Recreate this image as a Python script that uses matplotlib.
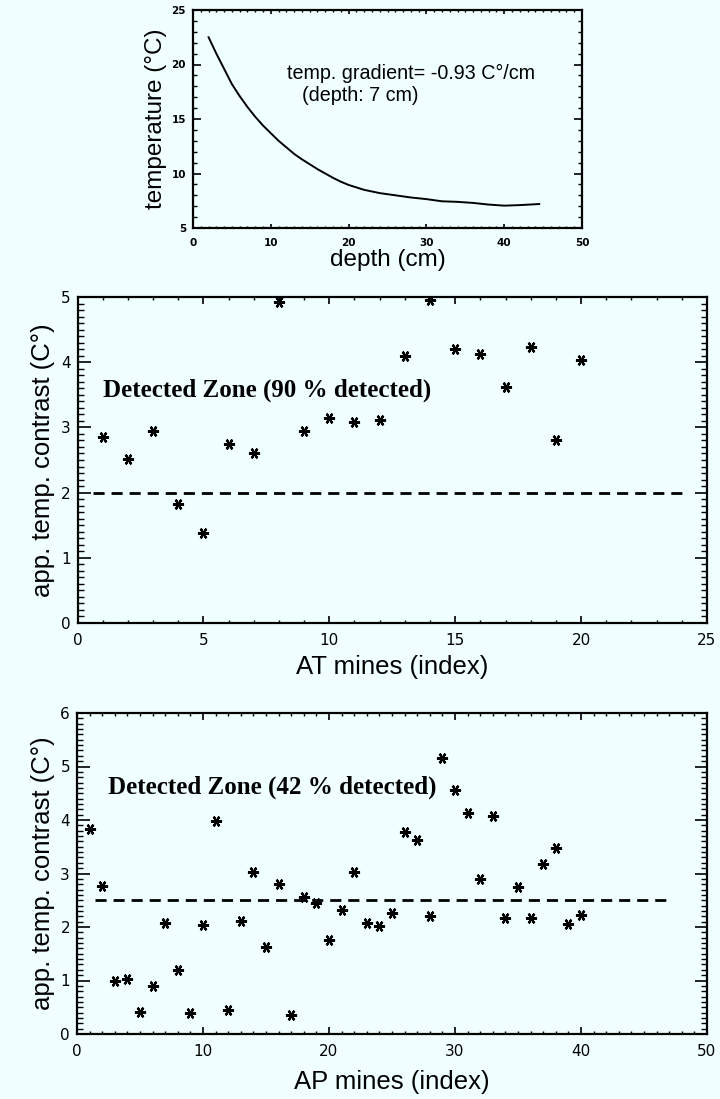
import numpy as np
import matplotlib.pyplot as plt
from matplotlib.ticker import MultipleLocator

# top panel: temperature profile
depth = [2, 3, 4, 5, 6, 7, 8, 9, 10, 11, 12, 13, 14, 15, 16, 17, 18, 19, 20,
         22, 24, 26, 28, 30, 32, 34, 36, 38, 40, 42, 44.5]
temperature = [22.5, 21.0, 19.6, 18.2, 17.1, 16.1, 15.2, 14.4, 13.7, 13.0, 12.4,
               11.8, 11.3, 10.85, 10.4, 10.0, 9.6, 9.25, 8.95, 8.5, 8.2, 8.0,
               7.8, 7.65, 7.45, 7.4, 7.3, 7.15, 7.05, 7.1, 7.2]

# middle panel: AT mines
at_contrast = [2.86, 2.51, 2.95, 1.82, 1.38, 2.75, 2.60, 4.93, 2.95, 3.14,
               3.09, 3.11, 4.09, 4.96, 4.20, 4.13, 3.62, 4.23, 2.81, 4.04]
at_index = list(range(1, len(at_contrast) + 1))
at_threshold = 2.0
at_threshold_span = [0.6, 24.1]

# bottom panel: AP mines
ap_contrast = [3.84, 2.77, 0.99, 1.03, 0.41, 0.90, 2.08, 1.19, 0.39, 2.03,
               3.99, 0.44, 2.12, 3.02, 1.62, 2.80, 0.36, 2.56, 2.45, 1.75,
               2.32, 3.02, 2.08, 2.01, 2.26, 3.78, 3.63, 2.21, 5.16, 4.57,
               4.14, 2.90, 4.08, 2.16, 2.75, 2.16, 3.17, 3.47, 2.06, 2.23]
ap_index = list(range(1, len(ap_contrast) + 1))
ap_threshold = 2.5
ap_threshold_span = [1.4, 46.8]

bg = '#f0ffff'
W, H = 720, 1099

fig = plt.figure(figsize=(W / 100, H / 100), dpi=100, facecolor=bg)


def box(l, t, r, b):
    return [l / W, 1 - b / H, (r - l) / W, (b - t) / H]


def idl_axes(ax, xmaj, xmin, ymaj, ymin, xlen, ylen, fs, fw='normal'):
    ax.set_facecolor(bg)
    ax.xaxis.set_major_locator(MultipleLocator(xmaj))
    ax.xaxis.set_minor_locator(MultipleLocator(xmin))
    ax.yaxis.set_major_locator(MultipleLocator(ymaj))
    ax.yaxis.set_minor_locator(MultipleLocator(ymin))
    ax.tick_params(axis='x', which='major', direction='in', top=True,
                   length=xlen, width=1.2, labelsize=fs, pad=7)
    ax.tick_params(axis='x', which='minor', direction='in', top=True,
                   length=xlen / 2, width=1.0)
    ax.tick_params(axis='y', which='major', direction='in', right=True,
                   length=ylen, width=1.2, labelsize=fs, pad=5)
    ax.tick_params(axis='y', which='minor', direction='in', right=True,
                   length=ylen / 2, width=1.0)
    for lab in ax.get_xticklabels() + ax.get_yticklabels():
        lab.set_fontweight(fw)
    for s in ax.spines.values():
        s.set_linewidth(1.6)


# top panel
ax1 = fig.add_axes(box(193, 10, 582, 228))
ax1.plot(depth, temperature, color='black', lw=1.4)
ax1.set_xlim(0, 50)
ax1.set_ylim(5, 25)
idl_axes(ax1, 10, 1, 5, 1, 3.2, 5.6, 7.5, 'bold')
ax1.set_xlabel('depth (cm)', fontsize=17.5, family='Liberation Sans', labelpad=1)
ax1.set_ylabel('temperature (°C)', fontsize=17.5, family='Liberation Sans',
               labelpad=3)
ax1.text(12.1, 19.2, 'temp. gradient= -0.93 C°/cm', fontsize=14.2,
         family='Liberation Sans', va='center')
ax1.text(14.0, 17.2, '(depth: 7 cm)', fontsize=14.2,
         family='Liberation Sans', va='center')

# middle panel
ax2 = fig.add_axes(box(77.5, 297, 707, 623))
ax2.plot(at_index, at_contrast, ls='none', marker=(6, 2, 90), ms=8,
         mew=1.6, color='black')
ax2.plot(at_threshold_span, [at_threshold] * 2, color='black', lw=2,
         ls=(0, (4, 2.5)))
ax2.set_xlim(0, 25)
ax2.set_ylim(0, 5)
idl_axes(ax2, 5, 1, 1, 0.1, 4.7, 9, 11)
ax2.set_xlabel('AT mines (index)', fontsize=18.5, family='Liberation Sans',
               labelpad=5)
ax2.set_ylabel('app. temp. contrast (C°)', fontsize=18.5,
               family='Liberation Sans', labelpad=4)
ax2.text(1.0, 3.57, 'Detected Zone (90 % detected)', fontsize=18,
         family='Liberation Serif', weight='bold', va='center')

# bottom panel
ax3 = fig.add_axes(box(77, 713, 707, 1034))
ax3.plot(ap_index, ap_contrast, ls='none', marker=(6, 2, 90), ms=8,
         mew=1.6, color='black')
ax3.plot(ap_threshold_span, [ap_threshold] * 2, color='black', lw=2,
         ls=(0, (4, 2.5)))
ax3.set_xlim(0, 50)
ax3.set_ylim(0, 6)
idl_axes(ax3, 10, 1, 1, 0.1, 4.7, 9, 11)
ax3.set_xlabel('AP mines (index)', fontsize=18.5, family='Liberation Sans',
               labelpad=8)
ax3.set_ylabel('app. temp. contrast (C°)', fontsize=18.5,
               family='Liberation Sans', labelpad=4)
ax3.text(2.46, 4.62, 'Detected Zone (42 % detected)', fontsize=18,
         family='Liberation Serif', weight='bold', va='center')

fig.savefig('out.png', dpi=100, facecolor=bg)
